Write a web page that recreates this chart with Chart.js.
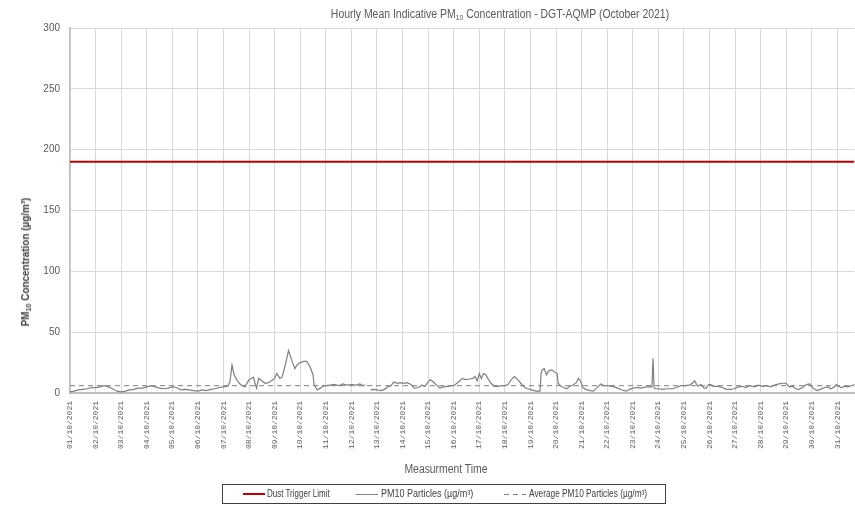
<!DOCTYPE html>
<html>
<head>
<meta charset="utf-8">
<script src="https://cdn.jsdelivr.net/npm/chart.js@4.4.1/dist/chart.umd.min.js"></script>
<style>
body{margin:0;background:#fff}
#wrap{position:relative;width:855px;height:507px;overflow:hidden;font-family:'Liberation Sans',sans-serif}
#c{position:absolute;left:0;top:0}
#title{position:absolute;left:250px;width:500px;top:7px;text-align:center;font-size:12px;color:#595959;white-space:nowrap;transform:scaleX(0.87)}
#title sub,#ytitle sub{font-size:8px;vertical-align:-2px;line-height:0}
#ytitle{position:absolute;left:25px;top:262px;transform:translate(-50%,-50%) rotate(-90deg) scaleX(0.9);white-space:nowrap;font-size:11px;font-weight:bold;color:#404040}
#xtitle{position:absolute;left:346px;width:200px;top:462px;text-align:center;font-size:12px;color:#595959;transform:scaleX(0.865)}
#legend{position:absolute;left:222px;top:484px;width:442px;height:18px;border:1px solid #404040;font-size:10px;color:#404040}
#legend .sw{position:absolute;top:9px;width:22px;height:0}
#legend .lt{position:absolute;top:3px;white-space:nowrap;transform-origin:0 50%}
#legend .dash{height:1px;top:9px;background:repeating-linear-gradient(90deg,#808080 0 5px,transparent 5px 9px)}
</style>
</head>
<body>
<div id="wrap">
<canvas id="c" width="855" height="507"></canvas>
<div id="title">Hourly Mean Indicative PM<sub>10</sub> Concentration - DGT-AQMP (October 2021)</div>
<div id="ytitle">PM<sub>10</sub> Concentration (µg/m³)</div>
<div id="xtitle">Measurment Time</div>
<div id="legend">
  <span class="sw" style="left:20px;border-top:2px solid #c00000;top:8px"></span><span class="lt" style="left:44px;transform:scaleX(0.8)">Dust Trigger Limit</span>
  <span class="sw" style="left:133px;border-top:1px solid #808080"></span><span class="lt" style="left:158px;transform:scaleX(0.9)">PM10 Particles (µg/m³)</span>
  <span class="sw dash" style="left:281px"></span><span class="lt" style="left:306px;transform:scaleX(0.83)">Average PM10 Particles (µg/m³)</span>
</div>
</div>
<script>
// tick labels, one per day at midnight
const dayLabels=['01/10/2021','02/10/2021','03/10/2021','04/10/2021','05/10/2021','06/10/2021','07/10/2021','08/10/2021','09/10/2021','10/10/2021','11/10/2021','12/10/2021','13/10/2021','14/10/2021','15/10/2021','16/10/2021','17/10/2021','18/10/2021','19/10/2021','20/10/2021','21/10/2021','22/10/2021','23/10/2021','24/10/2021','25/10/2021','26/10/2021','27/10/2021','28/10/2021','29/10/2021','30/10/2021','31/10/2021'];

// hours since 01/10/2021 00:00 and PM10 readings (µg/m3), one line per day
const hours=[
  0,4,8,12,16,20,
  24,28,32,36,40,44,
  48,52,56,60,64,68,
  72,76,80,84,88,92,
  96,100,104,108,112,116,
  120,124,128,132,136,140,
  144,148,150,152,154,157,160,164,
  168,170,172,175,177,180,183,186,189,
  192,194,197,199,202,205,208,211,213,
  216,219,222,225,228,229,232,235,238,
  240,244,248,252,256,260,
  264,268,272,275,277,279,282,285,
  288,292,295,298,301,304,307,310,
  312,316,320,323,327,330,333,
  336,338,341,344,347,350,354,358,
  360,363,366,368,371,375,378,380,382,
  384,386,388,390,392,395,398,402,405,
  408,411,414,417,420,423,426,429,
  432,435,438,441,442,443,445,447,449,452,455,
  457,458,460,463,466,469,472,475,477,479,
  481,484,488,491,494,498,501,
  504,509,514,518,522,525,
  528,532,536,540,544,546,547,548,550,
  552,556,560,565,569,573,
  577,581,584,586,589,592,595,597,599,
  601,604,608,612,616,620,623,
  627,631,634,638,642,646,
  650,654,657,661,665,669,
  672,675,678,681,684,688,691,694,696,
  698,701,704,708,711,714,717,719,
  721,724,727,730,733,736
];
const pm10=[
  1,1.5,2.5,3,3.5,4.5,
  4.5,5,6,5,3.5,1.5,
  1,1.5,2.5,3,4,4,
  5,6,5,4,3.5,4,
  5,4.5,2.5,3,2.5,2,
  1.5,2.5,2,3,3.5,4.5,
  5,5.5,9,23,15,10,7,5,
  11,12,13,4,12,10,8,8.5,10,
  12,16,12,13,23,35,27,20,23,
  25,26,26,22,15,7,2.5,4,6,
  6,6.5,7,6,7.5,6.5,
  7,6.5,7.5,6,6.5,null,2.5,3,
  2.5,2,3,5,6,9,8,8.5,
  8,8.5,7,4,4.5,6.5,5.5,
  9,11,9,6.5,4,5,5.5,6,
  6,8,10,12,11,11.5,12,13.5,10,
  16,12,16,15,12,8,5.5,5.5,6,
  6,7,11,13.5,11,8,5,3.5,
  3,2,1.5,1.5,16,19,20,15,18,19,17,
  16,8,6,4.5,3.5,5.5,6.5,8.5,12,10,
  4.5,3,2,1.5,4,7.5,6,
  6,5.5,4,2.5,1.5,3,
  4,4.5,4,5,5,5,28.5,4,3.5,
  3.5,3,3.5,3.5,4.5,6,
  6,6.5,8,10,5.5,7,4,4,7,
  7,5.5,5.5,4.5,3,3,3.5,
  5,5.5,4.5,6,5,6.5,
  5.5,6,5,6.5,7.5,8,
  8,5,5.5,3.5,3,5,7,7.5,5,
  3.5,2,3,4.5,5,3.5,5,7,
  5.5,4.5,5.5,5,6,7
];
const dustLimit=190;   // trigger limit
const pm10Average=6;   // average line
const xEnd=736;        // right edge of the visible plot (hours)

new Chart(document.getElementById('c'),{
  type:'line',
  data:{datasets:[
    {label:'Dust Trigger Limit',data:[{x:0,y:dustLimit},{x:xEnd,y:dustLimit}],borderColor:'#c00000',borderWidth:2,pointRadius:0},
    {label:'PM10 Particles (µg/m³)',data:hours.map((h,i)=>({x:h,y:pm10[i]})),borderColor:'#7f7f7f',borderWidth:1.2,pointRadius:0,spanGaps:false,tension:0},
    {label:'Average PM10 Particles (µg/m³)',data:[{x:0,y:pm10Average},{x:xEnd,y:pm10Average}],borderColor:'#7f7f7f',borderWidth:1,borderDash:[5,4],pointRadius:0}
  ]},
  options:{
    responsive:false,animation:false,devicePixelRatio:1,
    layout:{padding:{top:28,right:0,bottom:0,left:0}},
    plugins:{legend:{display:false},title:{display:false},tooltip:{enabled:false}},
    scales:{
      x:{type:'linear',min:0,max:xEnd,
        ticks:{stepSize:24,autoSkip:false,includeBounds:false,maxRotation:90,minRotation:90,padding:8,color:'#595959',
          font:{family:"'Liberation Mono',monospace",size:8},
          callback:v=>dayLabels[v/24]||''},
        grid:{color:'#d9d9d9',drawTicks:false},
        border:{color:'#bfbfbf',width:2},
        afterFit:s=>{s.height=114}},
      y:{min:0,max:300,
        ticks:{stepSize:50,padding:10,color:'#595959',font:{family:"'Liberation Sans',sans-serif",size:10}},
        grid:{color:'#d9d9d9',drawTicks:false},
        border:{color:'#bfbfbf',width:1.5},
        afterFit:s=>{s.width=70}}
    }
  }
});
</script>
</body>
</html>
